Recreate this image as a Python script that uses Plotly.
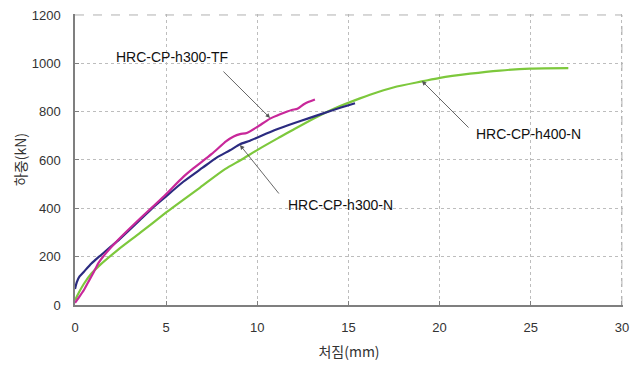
import plotly.graph_objects as go

# HRC-CP-h300-N (navy)
n300_x = [0, 0.1, 0.25, 0.49, 0.9, 1.32, 2.32, 3.6, 4.2, 4.88, 5.94, 7.0, 7.77, 8.5, 9.05, 9.6, 10.97, 12.0, 12.8, 14.17, 15.36]
n300_y = [66, 95, 118, 138, 172, 200, 264, 355, 398, 442, 510, 568, 610, 640, 665, 680, 724, 752, 772, 807, 835]

# HRC-CP-h300-TF (magenta)
tf300_x = [0, 0.2, 0.49, 0.8, 1.04, 1.3, 1.59, 2.32, 3.6, 4.2, 4.88, 5.94, 6.49, 7.5, 8.3, 8.7, 9.05, 9.42, 10.0, 10.7, 11.25, 11.89, 12.2, 12.6, 13.16]
tf300_y = [9, 30, 62, 105, 138, 175, 205, 266, 360, 402, 450, 530, 565, 625, 678, 697, 707, 712, 737, 771, 789, 807, 812, 833, 850]

# HRC-CP-h400-N (green)
n400_x = [0, 0.2, 0.49, 0.9, 1.32, 2.32, 3.6, 5.0, 5.3, 6.86, 8.23, 9.1, 10.06, 11.25, 11.89, 13.26, 14.26, 15.63, 16.18, 17.46, 19.1, 20.02, 21.67, 23.3, 24.96, 27.06]
n400_y = [20, 50, 88, 130, 162, 226, 300, 383, 400, 486, 562, 600, 644, 695, 722, 778, 814, 855, 870, 900, 926, 940, 957, 970, 978, 980]

x_ticks = [0, 5, 10, 15, 20, 25, 30]
y_ticks = [0, 200, 400, 600, 800, 1000, 1200]

fig = go.Figure()
fig.add_trace(go.Scatter(x=n400_x, y=n400_y, mode="lines", line=dict(color="#7dc83c", width=2.2, shape="spline", smoothing=0.8), name="HRC-CP-h400-N"))
fig.add_trace(go.Scatter(x=n300_x, y=n300_y, mode="lines", line=dict(color="#2b2b80", width=2.2, shape="spline", smoothing=0.6), name="HRC-CP-h300-N"))
fig.add_trace(go.Scatter(x=tf300_x, y=tf300_y, mode="lines", line=dict(color="#c8289a", width=2.2, shape="spline", smoothing=0.6), name="HRC-CP-h300-TF"))

font_lbl = dict(family="Liberation Sans, Arial, sans-serif", size=14, color="#111111")
arrow = dict(showarrow=True, arrowhead=2, arrowsize=1, arrowwidth=0.9, arrowcolor="#555555",
             axref="x", ayref="y", xref="x", yref="y")

fig.add_annotation(x=10.7, y=774, ax=8.06, ay=972, text="", **arrow)
fig.add_annotation(x=9.05, y=662, ax=11.25, ay=455, text="", **arrow)
fig.add_annotation(x=19.03, y=927, ax=21.67, ay=728, text="", **arrow)

fig.add_annotation(x=5.32, y=1026, text="HRC-CP-h300-TF", showarrow=False, font=font_lbl, xref="x", yref="y")
fig.add_annotation(x=14.54, y=414, text="HRC-CP-h300-N", showarrow=False, font=font_lbl, xref="x", yref="y")
fig.add_annotation(x=24.9, y=707, text="HRC-CP-h400-N", showarrow=False, font=font_lbl, xref="x", yref="y")

# dashed frame on the top and right edges (grid at 1200 and 30)
border = dict(color="#b0b0b0", width=1, dash="dash")
fig.add_shape(type="line", xref="x", yref="y", x0=x_ticks[0], x1=x_ticks[-1], y0=y_ticks[-1], y1=y_ticks[-1], line=border, layer="above")
fig.add_shape(type="line", xref="x", yref="y", x0=x_ticks[-1], x1=x_ticks[-1], y0=y_ticks[0], y1=y_ticks[-1], line=border, layer="above")

tickfont = dict(family="Liberation Sans, Arial, sans-serif", size=13, color="#333333")
titlefont = dict(family="Noto Sans CJK KR, Liberation Sans, sans-serif", size=14, color="#333333")

fig.update_layout(
    width=630, height=366,
    margin=dict(l=75, r=7, t=14, b=61),
    paper_bgcolor="white", plot_bgcolor="white",
    showlegend=False,
    xaxis=dict(range=[0, 30.06], tickvals=x_ticks, ticktext=[str(v) for v in x_ticks],
               showgrid=True, gridcolor="#bdbdbd", griddash="3px,3px", gridwidth=1,
               showline=True, linecolor="#7f7f7f", linewidth=1.5, zeroline=False,
               ticks="inside", ticklen=4, tickcolor="#7f7f7f", automargin=False,
               tickfont=tickfont, ticklabelstandoff=10,
               title=dict(text="처짐(mm)", font=titlefont, standoff=13)),
    yaxis=dict(range=[0, 1204], tickvals=y_ticks, ticktext=[str(v) for v in y_ticks],
               showgrid=True, gridcolor="#bdbdbd", griddash="3px,3px", gridwidth=1,
               showline=True, linecolor="#7f7f7f", linewidth=1.5, zeroline=False,
               ticks="inside", ticklen=4, tickcolor="#7f7f7f", automargin=False,
               tickfont=tickfont, ticklabelstandoff=10,
               title=dict(text="하중(kN)", font=titlefont, standoff=2)),
)

fig.write_html("out.html", config={"displayModeBar": False},
               post_script="document.body.style.margin='0';document.body.style.overflow='hidden';")
